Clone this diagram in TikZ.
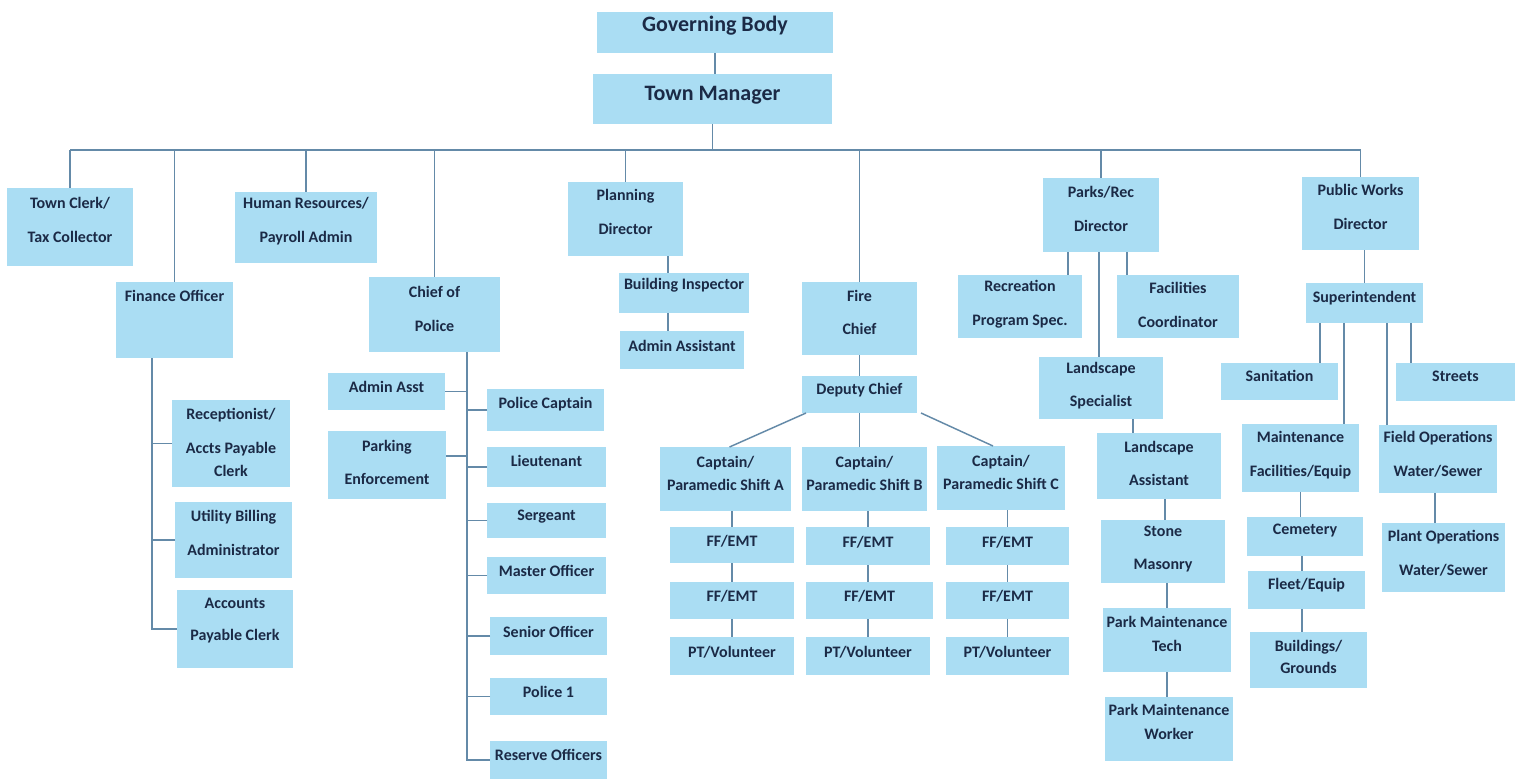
\documentclass[tikz,border=0pt]{standalone}
\usepackage{fontspec}
\setmainfont{Carlito}
\usetikzlibrary{calc}
\definecolor{boxblue}{RGB}{170,221,243}
\definecolor{navy}{RGB}{27,42,70}
\definecolor{linec}{RGB}{100,138,168}
\tikzset{
  box/.style={rectangle, fill=boxblue, inner sep=0pt, outer sep=0pt},
  txt/.style={inner sep=0pt, align=center, text=navy, font=\fontsize{12}{14}\selectfont\bfseries},
  conn/.style={draw=linec, line width=1.1pt},
}
% \bx[raise]{name}{x1}{y1}{x2}{y2}{text}
\newcommand\bx[7][3pt]{%
  \node[box, minimum width={(#5-#3)*0.75pt}, minimum height={(#6-#4)*0.75pt}] (#2) at ({(#3+#5)/2},{(#4+#6)/2}) {};
  \node[txt, yshift=#1] (#2-t) at (#2.center) {#7};}
\begin{document}
\begin{tikzpicture}[x=0.75pt, y=-0.75pt]
\useasboundingbox (0,0) rectangle (1520,779);
% top
\bx[5.5pt]{gb}{597}{12}{833}{53}{\fontsize{16.5}{19}\selectfont Governing Body}
\bx[2.5pt]{tm}{593}{74}{832}{124}{\fontsize{16.5}{19}\selectfont Town Manager}
% directors
\bx[5.5pt]{tc}{7}{188}{133}{266}{Town Clerk/\\[11.5pt]Tax Collector}
\bx[18pt]{fo}{116}{282}{233}{358}{Finance Officer}
\bx[4.75pt]{hr}{235}{192}{377}{263}{Human Resources/\\[11pt]Payroll Admin}
\bx[4.4pt]{cp}{369}{277}{500}{352}{Chief of\\[11.5pt]Police}
\bx[5.5pt]{pd}{568}{182}{683}{256}{Planning\\[11.5pt]Director}
\bx[4.75pt]{fc}{802}{282}{917}{355}{Fire\\[11pt]Chief}
\bx[4.75pt]{pr}{1043}{178}{1159}{252}{Parks/Rec\\[11.5pt]Director}
\bx[5pt]{pw}{1302}{177}{1419}{250}{Public Works\\[11.5pt]Director}
% finance
\bx[1pt]{rc}{172}{400}{290}{487}{Receptionist/\\[11.5pt]Accts Payable\\[3.5pt]Clerk}
\bx[5.5pt]{ub}{175}{502}{292}{578}{Utility Billing\\[11.5pt]Administrator}
\bx[6.25pt]{ap}{177}{590}{293}{668}{Accounts\\[10pt]Payable Clerk}
% police
\bx[3.25pt]{aa}{328}{373}{445}{410}{Admin Asst}
\bx[2pt]{pe}{328}{431}{446}{499}{Parking\\[11pt]Enforcement}
\bx[4.75pt]{pc}{487}{389}{604}{431}{Police Captain}
\bx[4.75pt]{lt}{487}{447}{606}{487}{Lieutenant}
\bx[3pt]{sg}{487}{503}{606}{538}{Sergeant}
\bx[3.6pt]{mo}{487}{557}{606}{594}{Master Officer}
\bx[3.25pt]{so}{490}{617}{607}{655}{Senior Officer}
\bx[3.6pt]{pone}{490}{678}{607}{715}{Police 1}
\bx[4pt]{ro}{490}{741}{607}{779}{Reserve Officers}
% planning
\bx[5.5pt]{bi}{619}{273}{749}{313}{Building Inspector}
\bx[3.25pt]{aas}{620}{331}{744}{369}{Admin Assistant}
% fire
\bx[3.6pt]{dc}{802}{376}{917}{413}{Deputy Chief}
\bx[4.4pt]{ca}{660}{447}{791}{511}{Captain/\\[3pt]Paramedic Shift A}
\bx[4.4pt]{cb}{802}{447}{927}{511}{Captain/\\[3pt]Paramedic Shift B}
\bx[4.4pt]{cc}{937}{446}{1065}{510}{Captain/\\[3pt]Paramedic Shift C}
\bx{fa1}{670}{527}{794}{563}{FF/EMT}
\bx{fb1}{806}{527}{930}{565}{FF/EMT}
\bx{fc1}{946}{527}{1069}{565}{FF/EMT}
\bx{fa2}{670}{582}{794}{619}{FF/EMT}
\bx{fb2}{806}{582}{933}{619}{FF/EMT}
\bx{fc2}{946}{582}{1069}{619}{FF/EMT}
\bx{fa3}{670}{637}{794}{675}{PT/Volunteer}
\bx{fb3}{806}{637}{930}{675}{PT/Volunteer}
\bx{fc3}{946}{637}{1069}{675}{PT/Volunteer}
% parks
\bx[1.4pt]{rec}{958}{275}{1082}{338}{Recreation\\[11.5pt]Program Spec.}
\bx[1.4pt]{fac}{1117}{275}{1239}{338}{Facilities\\[11.5pt]Coordinator}
\bx[2pt]{ls}{1039}{357}{1163}{419}{Landscape\\[11pt]Specialist}
\bx[2pt]{la}{1097}{433}{1221}{499}{Landscape\\[11pt]Assistant}
\bx[1.75pt]{sm}{1101}{520}{1225}{583}{Stone\\[11pt]Masonry}
\bx[4.75pt]{pmt}{1103}{608}{1231}{672}{Park Maintenance\\[4pt]Tech}
\bx[5.5pt]{pmw}{1105}{697}{1233}{761}{Park Maintenance\\[4pt]Worker}
% public works
\bx[4pt]{su}{1306}{283}{1423}{323}{Superintendent}
\bx[4.4pt]{san}{1221}{363}{1338}{400}{Sanitation}
\bx[4pt]{st}{1396}{363}{1515}{401}{Streets}
\bx[2.5pt]{mf}{1242}{424}{1359}{492}{Maintenance\\[11.5pt]Facilities/Equip}
\bx[3.25pt]{fw}{1379}{425}{1497}{493}{Field Operations\\[11.5pt]Water/Sewer}
\bx[4.4pt]{cem}{1247}{517}{1363}{556}{Cemetery}
\bx[4pt]{fl}{1248}{571}{1365}{609}{Fleet/Equip}
\bx[2.5pt]{bg}{1250}{632}{1367}{688}{Buildings/\\[2.5pt]Grounds}
\bx[3.25pt]{po}{1382}{523}{1505}{592}{Plant Operations\\[12pt]Water/Sewer}
% x / y helper coordinates
\coordinate (bus) at (0,150);
\coordinate (xpv) at (467,0);
\coordinate (xfv) at (152,0);
\coordinate (xpl) at (668,0);
\coordinate (xrec) at (1068,0);
\coordinate (xls) at (1099,0);
\coordinate (xfac) at (1127,0);
\coordinate (xla) at (1133,0);
\coordinate (xsm) at (1165,0);
\coordinate (xsan) at (1320,0);
\coordinate (xmf) at (1344,0);
\coordinate (xfw) at (1387,0);
\coordinate (xst) at (1411,0);
\coordinate (xcf) at (1302,0);
\coordinate (xpo) at (1435,0);
% top connectors
\draw[conn] (gb.south) -- (gb.south |- tm.north);
\draw[conn] (tm.south) -- (tm.south |- bus);
\draw[conn] (bus -| tc.north) -- (bus -| pw.north);
\foreach \c in {tc,fo,hr,cp,pd,fc,pr,pw} \draw[conn] (bus -| \c.north) -- (\c.north);
% finance
\draw[conn] (fo.south -| xfv) |- (ap.west);
\draw[conn] (rc.west) -- (rc.west -| xfv);
\draw[conn] (ub.west) -- (ub.west -| xfv);
% police
\draw[conn] (cp.south -| xpv) |- (ro.west);
\foreach \b in {pc,lt,sg,mo,so,pone} \draw[conn] (\b.west) -- (\b.west -| xpv);
\draw[conn] (aa.east) -- (aa.east -| xpv);
\coordinate (pej) at ($(pe.east)+(0,-9)$);
\draw[conn] (pej) -- (pej -| xpv);
% planning
\draw[conn] (pd.south -| xpl) -- (bi.north -| xpl);
\draw[conn] (bi.south -| xpl) -- (aas.north -| xpl);
% fire
\draw[conn] (fc.south) -- (fc.south |- dc.north);
\draw[conn] ($(dc.south west)+(4,0)$) -- ($(ca.north)+(4,0)$);
\draw[conn] (dc.south) -- (dc.south |- cb.north);
\draw[conn] ($(dc.south east)+(4,0)$) -- ($(cc.north)+(-8,0)$);
\draw[conn] (fa1.north |- ca.south) -- (fa1.north);
\draw[conn] (fa1.south) -- (fa2.north);
\draw[conn] (fa2.south) -- (fa3.north);
\draw[conn] (fb1.north |- cb.south) -- (fb1.north);
\draw[conn] (fb1.south) -- (fb1.south |- fb2.north);
\draw[conn] (fb2.south -| fb3.north) -- (fb3.north);
\draw[conn] (fc1.north |- cc.south) -- (fc1.north);
\draw[conn] (fc1.south) -- (fc2.north);
\draw[conn] (fc2.south) -- (fc3.north);
% parks
\draw[conn] (pr.south -| xrec) -- (rec.north -| xrec);
\draw[conn] (pr.south -| xls) -- (ls.north -| xls);
\draw[conn] (pr.south -| xfac) -- (fac.north -| xfac);
\draw[conn] (ls.south -| xla) -- (la.north -| xla);
\draw[conn] (la.south -| xsm) -- (sm.north -| xsm);
\draw[conn] (pmt.north |- sm.south) -- (pmt.north);
\draw[conn] (pmt.south) -- (pmt.south |- pmw.north);
% public works
\draw[conn] (su.north |- pw.south) -- (su.north);
\draw[conn] (su.south -| xsan) -- (san.north -| xsan);
\draw[conn] (su.south -| xmf) -- (mf.north -| xmf);
\draw[conn] (su.south -| xfw) -- (fw.north -| xfw);
\draw[conn] (su.south -| xst) -- (st.north -| xst);
\draw[conn] (mf.south) -- (mf.south |- cem.north);
\draw[conn] (cem.south -| xcf) -- (fl.north -| xcf);
\draw[conn] (fl.south -| xcf) -- (bg.north -| xcf);
\draw[conn] (fw.south -| xpo) -- (po.north -| xpo);
\end{tikzpicture}
\end{document}
